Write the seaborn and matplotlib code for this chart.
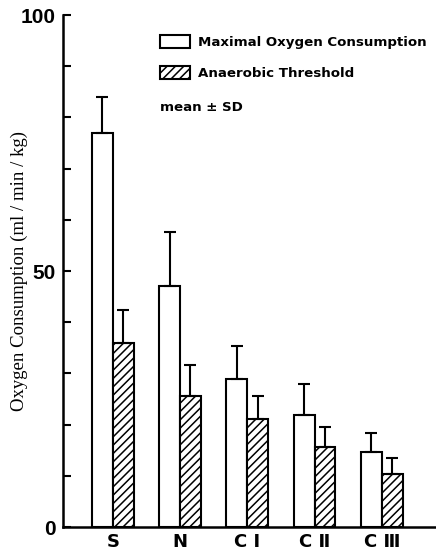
import numpy as np
import pandas as pd
import seaborn as sns
import matplotlib.pyplot as plt
from matplotlib.patches import Patch

groups = ['S', 'N', 'C Ⅰ', 'C Ⅱ', 'C Ⅲ']
vo2max = [77.0, 47.0, 29.0, 21.9, 14.6]
vo2max_sd = [7.0, 10.6, 6.3, 6.0, 3.8]
at = [36.0, 25.6, 21.1, 15.6, 10.4]
at_sd = [6.4, 6.0, 4.5, 3.9, 3.1]
measures = ['Maximal Oxygen Consumption', 'Anaerobic Threshold']

sns.set_style('ticks')
plt.rcParams['font.family'] = ['DejaVu Sans']
plt.rcParams['hatch.linewidth'] = 1.1
plt.rcParams['axes.linewidth'] = 1.8
plt.rcParams['axes.edgecolor'] = 'black'
plt.rcParams['text.color'] = 'black'
plt.rcParams['axes.labelcolor'] = 'black'
plt.rcParams['xtick.color'] = 'black'
plt.rcParams['ytick.color'] = 'black'

data = pd.DataFrame({
    'group': groups * 2,
    'measure': [measures[0]] * len(groups) + [measures[1]] * len(groups),
    'value': vo2max + at,
    'sd': vo2max_sd + at_sd,
})

fig = plt.figure(figsize=(4.36, 5.56), dpi=100)
ax = fig.add_axes([0.1445, 0.052, 0.853, 0.921])

sns.barplot(data=data, x='group', y='value', hue='measure', hue_order=measures,
            order=groups, palette=['white', 'white'], edgecolor='black',
            linewidth=1.5, width=0.62, errorbar=None, legend=False, ax=ax)

# hatch the second series and add upward-only SD bars
n = len(groups)
for i, bar in enumerate(ax.patches[:2 * n]):
    if i >= n:
        bar.set_hatch('////')
    x = bar.get_x() + bar.get_width() / 2
    h = bar.get_height()
    sd = data['sd'].iloc[i]
    ax.errorbar(x, h, yerr=[[0], [sd]], color='black', elinewidth=1.5,
                capsize=4.5, capthick=1.5, zorder=1)

ax.set_ylim(0, 100)
ax.set_xlim(-0.74, 4.79)
ax.set_yticks([0, 50, 100])
ax.set_yticks(np.arange(0, 101, 10), minor=True)
ax.tick_params(axis='y', which='both', direction='in', length=6, width=1.5, pad=5)
ax.tick_params(axis='x', length=0, pad=4)
for lab in ax.get_yticklabels():
    lab.set_fontfamily(['Liberation Sans', 'DejaVu Sans'])
    lab.set_fontweight('bold')
    lab.set_fontsize(15)
for lab in ax.get_xticklabels():
    lab.set_fontweight('bold')
    lab.set_fontsize(13)
sns.despine(ax=ax)

ax.set_xlabel('')
ax.set_ylabel('Oxygen Consumption (ml / min / kg)', family='Liberation Serif',
              fontsize=13.5)
ax.yaxis.set_label_coords(-0.095, 0.5)

handles = [Patch(facecolor='white', edgecolor='black', linewidth=1.5),
           Patch(facecolor='white', edgecolor='black', linewidth=1.5, hatch='////')]
leg = ax.legend(handles, measures, loc='upper left', bbox_to_anchor=(0.26, 0.96),
                frameon=False, handlelength=2.3, handleheight=1.1, labelspacing=1.25,
                handletextpad=0.6, borderpad=0, borderaxespad=0,
                prop={'weight': 'bold', 'size': 9.6})
ax.text(0.26, 0.82, 'mean ± SD', transform=ax.transAxes, fontsize=9.6,
        fontweight='bold', va='center', ha='left')

fig.savefig('out.png', dpi=100)
